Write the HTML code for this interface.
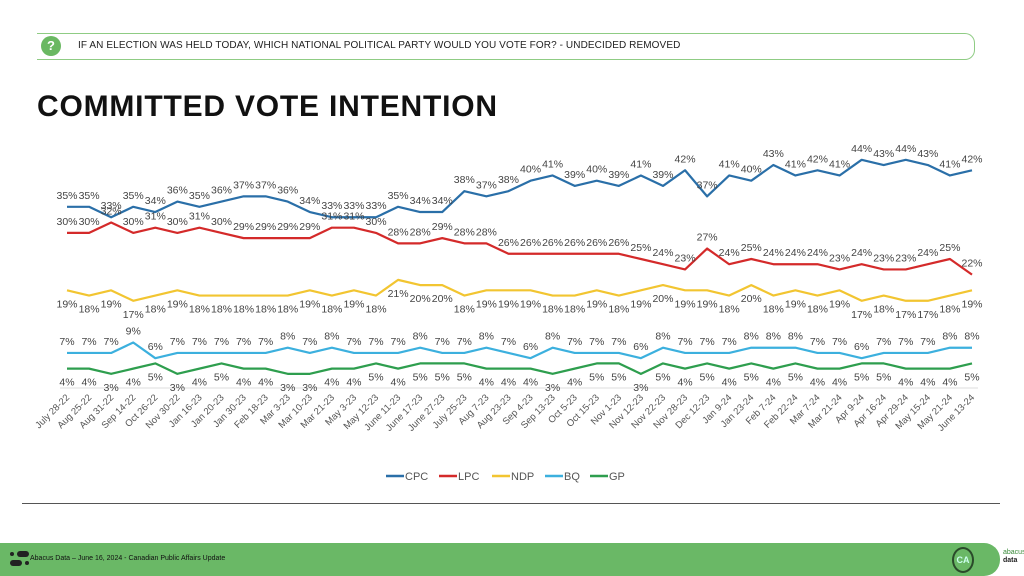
<!DOCTYPE html>
<html><head><meta charset="utf-8"><style>
body{margin:0;width:1024px;height:576px;overflow:hidden;background:#fff;font-family:"Liberation Sans",sans-serif;position:relative}
.abs{position:absolute}
</style></head><body>
<div class="abs" style="left:37px;top:33px;width:937px;height:25px;border:1.5px solid #8fcc84;border-left:none;border-radius:0 10px 10px 0"></div>
<div class="abs" style="left:41px;top:36px;width:20px;height:20px;border-radius:50%;background:#6ab862;color:#fff;font-size:13px;font-weight:bold;text-align:center;line-height:20px">?</div>
<div class="abs" style="left:78px;top:40px;font-size:10px;color:#222;letter-spacing:0.1px">IF AN ELECTION WAS HELD TODAY, WHICH NATIONAL POLITICAL PARTY WOULD YOU VOTE FOR? - UNDECIDED REMOVED</div>
<div class="abs" style="left:37px;top:90px;font-size:30px;font-weight:bold;color:#111;letter-spacing:0.8px">COMMITTED VOTE INTENTION</div>
<svg class="abs" style="left:0;top:0" width="1024" height="576" id="chart"></svg>
<div class="abs" style="left:22px;top:503px;width:978px;height:1px;background:#555"></div>
<div class="abs" style="left:0;top:543px;width:1000px;height:33px;background:#6ab866;border-radius:0 16px 16px 0"></div>
<div class="abs" style="left:10px;top:550px;width:18px;height:18px">
<div class="abs" style="left:0;top:2px;width:4px;height:4px;border-radius:50%;background:#222"></div>
<div class="abs" style="left:7px;top:1px;width:12px;height:6px;border-radius:3px;background:#222"></div>
<div class="abs" style="left:0;top:10px;width:12px;height:6px;border-radius:3px;background:#222"></div>
<div class="abs" style="left:15px;top:11px;width:4px;height:4px;border-radius:50%;background:#222"></div></div>
<div class="abs" style="left:30px;top:555px;font-size:7px;color:#111">Abacus Data – June 16, 2024 - Canadian Public Affairs Update</div>
<div class="abs" style="left:952px;top:547px;width:18px;height:22px;border:2px solid #2a4a2a;border-radius:50%;color:#cfe;font-size:9px;text-align:center;line-height:22px;font-weight:bold">CA</div>
<div class="abs" style="left:1003px;top:549px;font-size:7px;color:#3a8a3a;line-height:8px">abacus<br><b style="color:#222">data</b></div>
<script>
const categories=["July 28-22","Aug 25-22","Aug 31-22","Sep 14-22","Oct 26-22","Nov 30-22","Jan 16-23","Jan 20-23","Jan 30-23","Feb 18-23","Mar 3-23","Mar 10-23","Mar 21-23","May 3-23","May 12-23","June 11-23","June 17-23","June 27-23","July 25-23","Aug 7-23","Aug 23-23","Sep 4-23","Sep 13-23","Oct 5-23","Oct 15-23","Nov 1-23","Nov 12-23","Nov 22-23","Nov 28-23","Dec 12-23","Jan 9-24","Jan 23-24","Feb 7-24","Feb 22-24","Mar 7-24","Mar 21-24","Apr 9-24","Apr 16-24","Apr 29-24","May 15-24","May 21-24","June 13-24"];
const cpc=[35,35,33,35,34,36,35,36,37,37,36,34,33,33,33,35,34,34,38,37,38,40,41,39,40,39,41,39,42,37,41,40,43,41,42,41,44,43,44,43,41,42];
const lpc=[30,30,32,30,31,30,31,30,29,29,29,29,31,31,30,28,28,29,28,28,26,26,26,26,26,26,25,24,23,27,24,25,24,24,24,23,24,23,23,24,25,22];
const ndp=[19,18,19,17,18,19,18,18,18,18,18,19,18,19,18,21,20,20,18,19,19,19,18,18,19,18,19,20,19,19,18,20,18,19,18,19,17,18,17,17,18,19];
const bq=[7,7,7,9,6,7,7,7,7,7,8,7,8,7,7,7,8,7,7,8,7,6,8,7,7,7,6,8,7,7,7,8,8,8,7,7,6,7,7,7,8,8];
const gp=[4,4,3,4,5,3,4,5,4,4,3,3,4,4,5,4,5,5,5,4,4,4,3,4,5,5,3,5,4,5,4,5,4,5,4,4,5,5,4,4,4,5];
const seriesNames=["CPC","LPC","NDP","BQ","GP"];
const seriesData=[cpc,lpc,ndp,bq,gp];
const colors=["#2a6fa8","#d42a2a","#f2c531","#3cb0de","#2e9e4e"];
const labelPos=[-1,-1,1,-1,1];
const svg=document.getElementById('chart');
const NS="http://www.w3.org/2000/svg";
const x0=67,x1=972,yZero=389.5,pxPer=5.22;
const xs=i=>x0+i*(x1-x0)/(categories.length-1);
const ys=v=>yZero-v*pxPer;
function mk(t,a){const e=document.createElementNS(NS,t);for(const k in a)e.setAttribute(k,a[k]);svg.appendChild(e);return e;}
let ax=mk('line',{x1:60,x2:978,y1:388,y2:388,stroke:'#ddd','stroke-width':1});


categories.forEach((c,i)=>{
  const t=mk('text',{x:xs(i)+3,y:398,'font-size':9.5,fill:'#555','text-anchor':'end',transform:`rotate(-45 ${xs(i)+3} 398)`});
  t.textContent=c;
  
  
});
seriesData.forEach((d,s)=>{
  const p=mk('polyline',{points:d.map((v,i)=>xs(i)+','+ys(v)).join(' '),fill:'none',stroke:colors[s],'stroke-width':2.2,'stroke-linejoin':'round'});
  
  
  d.forEach((v,i)=>{
    const t=mk('text',{x:xs(i),y:ys(v)+(labelPos[s]<0?-8:17),'font-size':10.5,fill:'#444','text-anchor':'middle'});
    t.textContent=v+'%';
    
    
  });
});
let lx=386;
seriesNames.forEach((n,s)=>{
  const l=mk('line',{x1:lx,x2:lx+18,y1:476,y2:476,stroke:colors[s],'stroke-width':2.5});
  
  
  const t=mk('text',{x:lx+19,y:480,'font-size':11,fill:'#555'});
  t.textContent=n;
  
  
  lx+=19+n.length*8+10;
});
</script>
</body></html>
